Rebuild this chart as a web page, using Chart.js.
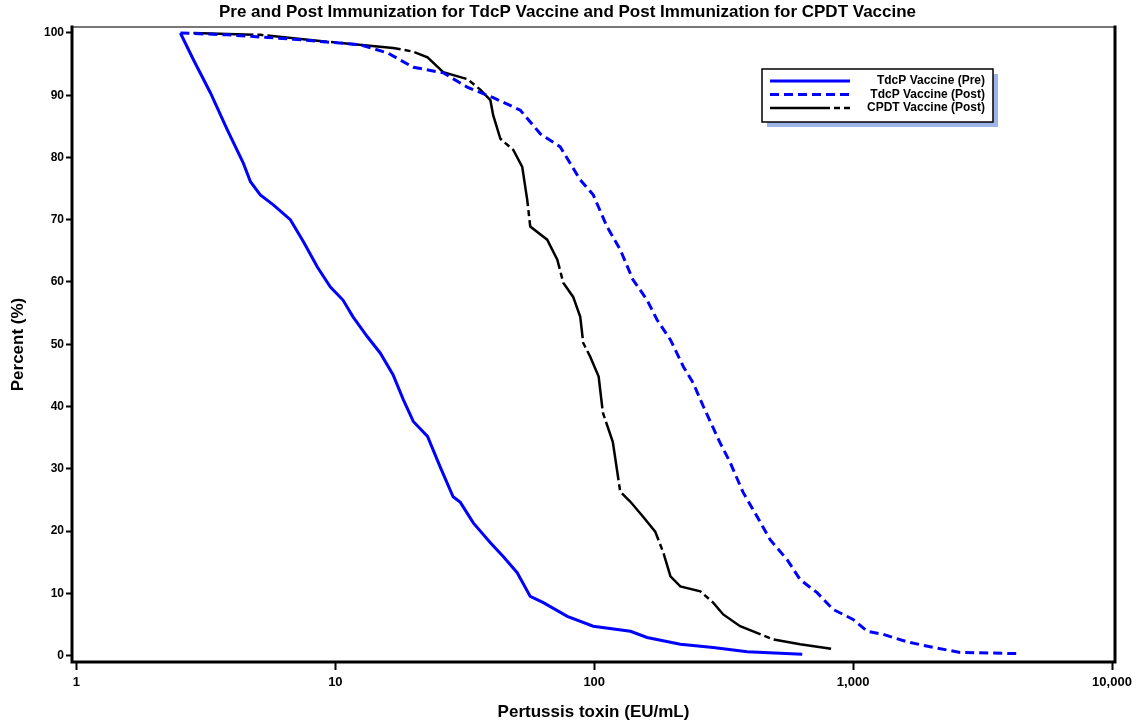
<!DOCTYPE html>
<html>
<head>
<meta charset="utf-8">
<script src="https://cdn.jsdelivr.net/npm/chart.js@4"></script>
<style>
    body { margin: 0; background: #fff; }
    #chart { display: block; }
</style>
</head>
<body>
<canvas id="chart" width="1135" height="725"></canvas>
<script>
const titleText = 'Pre and Post Immunization for TdcP Vaccine and Post Immunization for CPDT Vaccine';
const xTitle = 'Pertussis toxin (EU/mL)';
const yTitle = 'Percent (%)';

const xTicks = [1, 10, 100, 1000, 10000];
const yTicks = [0, 10, 20, 30, 40, 50, 60, 70, 80, 90, 100];

const seriesLabels = ['TdcP Vaccine (Pre)', 'TdcP Vaccine (Post)', 'CPDT Vaccine (Post)'];

// TdcP pre immunization
const preX = [2.52, 2.83, 3.29, 3.83, 4.41, 4.70, 5.13, 5.76, 6.70, 7.52,
    8.52, 9.57, 10.7, 11.7, 13.3, 14.9, 16.7, 18.3, 20.0, 22.7,
    25.4, 28.5, 30.4, 34.1, 39.7, 44.5, 50.4, 56.6, 63.6, 78.7,
    99.1, 138, 160, 215, 288, 390, 636];
const preY = [100, 95.7, 90.4, 84.4, 79.1, 76.1, 74.0, 72.4, 70.0, 66.5,
    62.4, 59.2, 57.1, 54.4, 51.2, 48.6, 45.1, 41.1, 37.6, 35.2,
    30.3, 25.5, 24.6, 21.3, 18.1, 15.9, 13.3, 9.5, 8.5, 6.3,
    4.7, 3.9, 2.9, 1.8, 1.3, 0.6, 0.2];

// TdcP post immunization
const postX = [2.52, 3.83, 6.88, 12.5, 15.9, 20.0, 26.1, 32.3, 40.7, 51.8,
    61.9, 73.9, 88.3, 99.1, 112, 126, 141, 160, 175, 197,
    221, 241, 264, 306, 335, 376, 426, 478, 556, 624,
    726, 837, 1000, 1133, 1306, 1616, 2037, 2589, 4336];
const postY = [100, 99.7, 99.0, 98.1, 96.8, 94.5, 93.6, 91.3, 89.6, 87.6,
    83.8, 81.7, 76.4, 74.0, 68.9, 65.2, 60.4, 57.1, 53.9, 50.7,
    46.4, 43.8, 40.0, 34.2, 31.0, 26.2, 22.3, 18.6, 15.4, 12.2,
    10.1, 7.4, 5.8, 3.9, 3.4, 2.2, 1.3, 0.5, 0.3];

// CPDT post immunization
const cpdtX = [2.83, 5.13, 9.31, 16.7, 20.0, 22.7, 26.1, 32.3, 36.3, 39.7,
    40.7, 43.4, 48.7, 52.7, 55.1, 56.6, 65.8, 72.0, 75.9, 82.9,
    88.3, 90.7, 96.5, 104, 108, 118, 126, 138, 155, 172,
    185, 197, 215, 257, 288, 315, 366, 491, 624, 822];
const cpdtY = [100, 99.7, 98.6, 97.6, 97.0, 96.1, 93.7, 92.6, 90.9, 89.2,
    86.8, 83.0, 81.2, 78.5, 73.2, 68.9, 66.8, 63.6, 59.9, 57.6,
    54.4, 50.2, 48.0, 44.8, 39.0, 34.3, 26.3, 24.7, 22.2, 19.9,
    16.5, 12.7, 11.1, 10.3, 8.5, 6.6, 4.7, 2.6, 1.8, 1.1];

function toPoints(xs, ys) {
    return xs.map(function (x, i) { return { x: x, y: ys[i] }; });
}

Chart.defaults.font.family = '"Liberation Sans", Arial, sans-serif';
Chart.defaults.color = '#000';

const framePlugin = {
    id: 'frame',
    afterDatasetsDraw(chart) {
        const { ctx, chartArea: a } = chart;
        ctx.save();
        ctx.lineCap = 'square';
        ctx.strokeStyle = '#777';
        ctx.lineWidth = 2;
        ctx.beginPath();
        ctx.moveTo(a.left, a.top);
        ctx.lineTo(a.right, a.top);
        ctx.stroke();
        ctx.strokeStyle = '#000';
        ctx.lineWidth = 3;
        ctx.beginPath();
        ctx.moveTo(a.right, a.top);
        ctx.lineTo(a.right, a.bottom);
        ctx.lineTo(a.left, a.bottom);
        ctx.lineTo(a.left, a.top);
        ctx.stroke();
        ctx.restore();
    },
};

const legendPlugin = {
    id: 'boxLegend',
    afterDraw(chart) {
        const ctx = chart.ctx;
        const box = { left: 762, top: 69, width: 231, height: 53 };
        ctx.save();
        ctx.fillStyle = '#9db5e6';
        ctx.fillRect(box.left + 5, box.top + 5, box.width, box.height);
        ctx.fillStyle = '#fff';
        ctx.fillRect(box.left, box.top, box.width, box.height);
        ctx.strokeStyle = '#000';
        ctx.lineWidth = 1.5;
        ctx.strokeRect(box.left, box.top, box.width, box.height);

        ctx.font = 'bold 12px "Liberation Sans", Arial, sans-serif';
        ctx.textAlign = 'right';
        ctx.textBaseline = 'middle';
        chart.data.datasets.forEach(function (ds, i) {
            const y = box.top + 12 + i * 13.5;
            ctx.strokeStyle = ds.borderColor;
            ctx.lineWidth = ds.borderWidth;
            ctx.setLineDash(ds.borderDash || []);
            ctx.beginPath();
            ctx.moveTo(box.left + 8, y);
            ctx.lineTo(box.left + 88, y);
            ctx.stroke();
            ctx.setLineDash([]);
            ctx.fillStyle = '#000';
            ctx.fillText(ds.label, box.left + box.width - 8, y);
        });
        ctx.restore();
    },
};

new Chart(document.getElementById('chart'), {
    type: 'line',
    data: {
        datasets: [{
            label: seriesLabels[0],
            data: toPoints(preX, preY),
            borderColor: '#0000FF',
            borderWidth: 3,
        }, {
            label: seriesLabels[1],
            data: toPoints(postX, postY),
            borderColor: '#0000FF',
            borderWidth: 3,
            borderDash: [9, 5],
        }, {
            label: seriesLabels[2],
            data: toPoints(cpdtX, cpdtY),
            borderColor: '#000000',
            borderWidth: 2.5,
            borderDash: [60, 4, 6, 4],
        }],
    },
    options: {
        responsive: false,
        animation: false,
        devicePixelRatio: 1,
        events: [],
        layout: { padding: 0 },
        elements: {
            point: { radius: 0 },
            line: { tension: 0, fill: false },
        },
        plugins: {
            legend: { display: false },
            tooltip: { enabled: false },
            title: {
                display: true,
                text: titleText,
                font: { size: 17, weight: 'bold' },
                padding: { top: 2, bottom: 4.6 },
            },
        },
        scales: {
            x: {
                type: 'logarithmic',
                min: 0.961,
                max: 10270,
                afterBuildTicks(scale) {
                    scale.ticks = xTicks.map(function (v) { return { value: v }; });
                },
                afterFit(scale) {
                    scale.height = 63;
                    scale.paddingLeft = 0;
                    scale.paddingRight = 20;
                },
                border: { display: false },
                grid: {
                    drawOnChartArea: false,
                    color: '#000',
                    tickLength: 8,
                    tickWidth: 2,
                },
                ticks: {
                    autoSkip: false,
                    maxRotation: 0,
                    padding: 5,
                    font: { size: 13, weight: 'bold' },
                    callback: function (v) { return Number(v).toLocaleString('en-US'); },
                },
                title: {
                    display: true,
                    text: xTitle,
                    font: { size: 17, weight: 'bold' },
                    padding: { top: 0, bottom: 2 },
                },
            },
            y: {
                type: 'linear',
                min: -1.04,
                max: 100.96,
                afterBuildTicks(scale) {
                    scale.ticks = yTicks.map(function (v) { return { value: v }; });
                },
                afterFit(scale) {
                    scale.width = 72;
                    scale.paddingTop = 0;
                    scale.paddingBottom = 0;
                },
                border: { display: false },
                grid: {
                    drawOnChartArea: false,
                    color: '#000',
                    tickLength: 6,
                    tickWidth: 2,
                },
                ticks: {
                    padding: 2,
                    font: { size: 12, weight: 'bold' },
                },
                title: {
                    display: true,
                    text: yTitle,
                    font: { size: 17, weight: 'bold' },
                    padding: { top: 8, bottom: 0 },
                },
            },
        },
    },
    plugins: [framePlugin, legendPlugin],
});
</script>
</body>
</html>
